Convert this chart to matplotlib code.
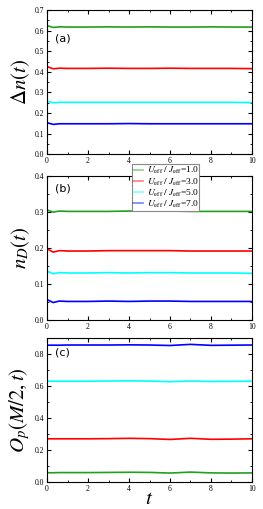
import matplotlib.pyplot as plt

plt.rcParams['mathtext.fontset'] = 'stix'
plt.rcParams['font.family'] = 'Liberation Serif'

t = [0, 0.3, 0.6, 1, 2, 3, 4, 5, 6, 7, 8, 9, 10]

# panel (a): Delta n(t)
dn_u1 = [0.625, 0.616, 0.619, 0.618, 0.618, 0.619, 0.618, 0.619, 0.618, 0.618, 0.619, 0.618, 0.618]
dn_u3 = [0.426, 0.415, 0.418, 0.417, 0.417, 0.418, 0.417, 0.417, 0.418, 0.417, 0.417, 0.417, 0.416]
dn_u5 = [0.258, 0.250, 0.252, 0.252, 0.252, 0.252, 0.252, 0.252, 0.252, 0.252, 0.252, 0.252, 0.251]
dn_u7 = [0.153, 0.145, 0.148, 0.148, 0.148, 0.148, 0.149, 0.148, 0.148, 0.148, 0.148, 0.148, 0.148]

# panel (b): n_D(t)
nd_u1 = [0.306, 0.300, 0.303, 0.302, 0.302, 0.302, 0.303, 0.303, 0.303, 0.302, 0.302, 0.302, 0.302]
nd_u3 = [0.198, 0.189, 0.193, 0.192, 0.192, 0.193, 0.193, 0.193, 0.193, 0.192, 0.192, 0.192, 0.192]
nd_u5 = [0.136, 0.129, 0.132, 0.131, 0.131, 0.132, 0.131, 0.132, 0.132, 0.131, 0.131, 0.131, 0.130]
nd_u7 = [0.057, 0.049, 0.053, 0.052, 0.052, 0.053, 0.052, 0.053, 0.053, 0.052, 0.052, 0.052, 0.052]

# panel (c): O_p(M/2, t)
op_u1 = [0.058, 0.058, 0.059, 0.059, 0.059, 0.060, 0.061, 0.060, 0.056, 0.062, 0.057, 0.056, 0.057]
op_u3 = [0.270, 0.270, 0.270, 0.270, 0.270, 0.271, 0.273, 0.271, 0.266, 0.273, 0.267, 0.268, 0.270]
op_u5 = [0.630, 0.630, 0.630, 0.630, 0.630, 0.631, 0.632, 0.631, 0.627, 0.631, 0.628, 0.629, 0.630]
op_u7 = [0.855, 0.855, 0.855, 0.856, 0.856, 0.856, 0.857, 0.856, 0.853, 0.860, 0.854, 0.855, 0.856]

labels = [r'$U_{\rm eff}\;/\;J_{\rm eff}$=1.0', r'$U_{\rm eff}\;/\;J_{\rm eff}$=3.0',
          r'$U_{\rm eff}\;/\;J_{\rm eff}$=5.0', r'$U_{\rm eff}\;/\;J_{\rm eff}$=7.0']
colors = ['#1fa01f', '#ff0000', '#00ffff', '#0000ff']

fig = plt.figure(figsize=(2.63, 5.09), dpi=100)
axa = fig.add_axes([0.179, 0.697, 0.779, 0.283])
axb = fig.add_axes([0.179, 0.371, 0.779, 0.283])
axc = fig.add_axes([0.179, 0.053, 0.779, 0.283])

panels = [
    (axa, [dn_u1, dn_u3, dn_u5, dn_u7], 0.7, 0.1, 0.05, r'$\Delta n(t)$', '(a)', 0.78),
    (axb, [nd_u1, nd_u3, nd_u5, nd_u7], 0.4, 0.1, 0.05, r'$n_D(t)$', '(b)', 0.89),
    (axc, [op_u1, op_u3, op_u5, op_u7], 0.9, 0.2, 0.1, r'$O_p(M/2,t)$', '(c)', 0.88),
]

for ax, series, ymax, major, minor, ylab, tag, ty in panels:
    for y, c, lab in zip(series, colors, labels):
        ax.plot(t, y, color=c, lw=1.2, label=lab)
    ax.set_xlim(0, 10)
    ax.set_ylim(0, ymax)
    ax.set_xticks(range(0, 11, 2))
    ax.set_xticks(range(0, 11, 1), minor=True)
    n = int(round(ymax / major))
    ax.set_yticks([round(i * major, 2) for i in range(n + 1) if i * major <= ymax + 1e-9])
    nm = int(round(ymax / minor))
    ax.set_yticks([i * minor for i in range(nm + 1)], minor=True)
    ax.tick_params(which='both', direction='in', top=True, right=True, labelsize=5.5, pad=2)
    ax.tick_params(which='major', length=3)
    ax.tick_params(which='minor', length=1.5)
    ax.set_ylabel(ylab, fontsize=15, labelpad=2)
    ax.text(0.04, ty, tag, transform=ax.transAxes, fontsize=8, family='DejaVu Sans')
    for s in ax.spines.values():
        s.set_linewidth(0.8)

axc.set_xlabel(r'$t$', fontsize=15, labelpad=-2)

leg = axb.legend(loc='upper center', bbox_to_anchor=(0.58, 1.083), fontsize=6.8, frameon=True,
                 fancybox=False, edgecolor='#888888', framealpha=1, handlelength=1.0,
                 handletextpad=0.4, borderpad=0.1, labelspacing=0.0, borderaxespad=0)
leg.get_frame().set_linewidth(0.8)
for h in leg.legend_handles:
    h.set_alpha(0.5)

fig.savefig('out.png', dpi=100)
